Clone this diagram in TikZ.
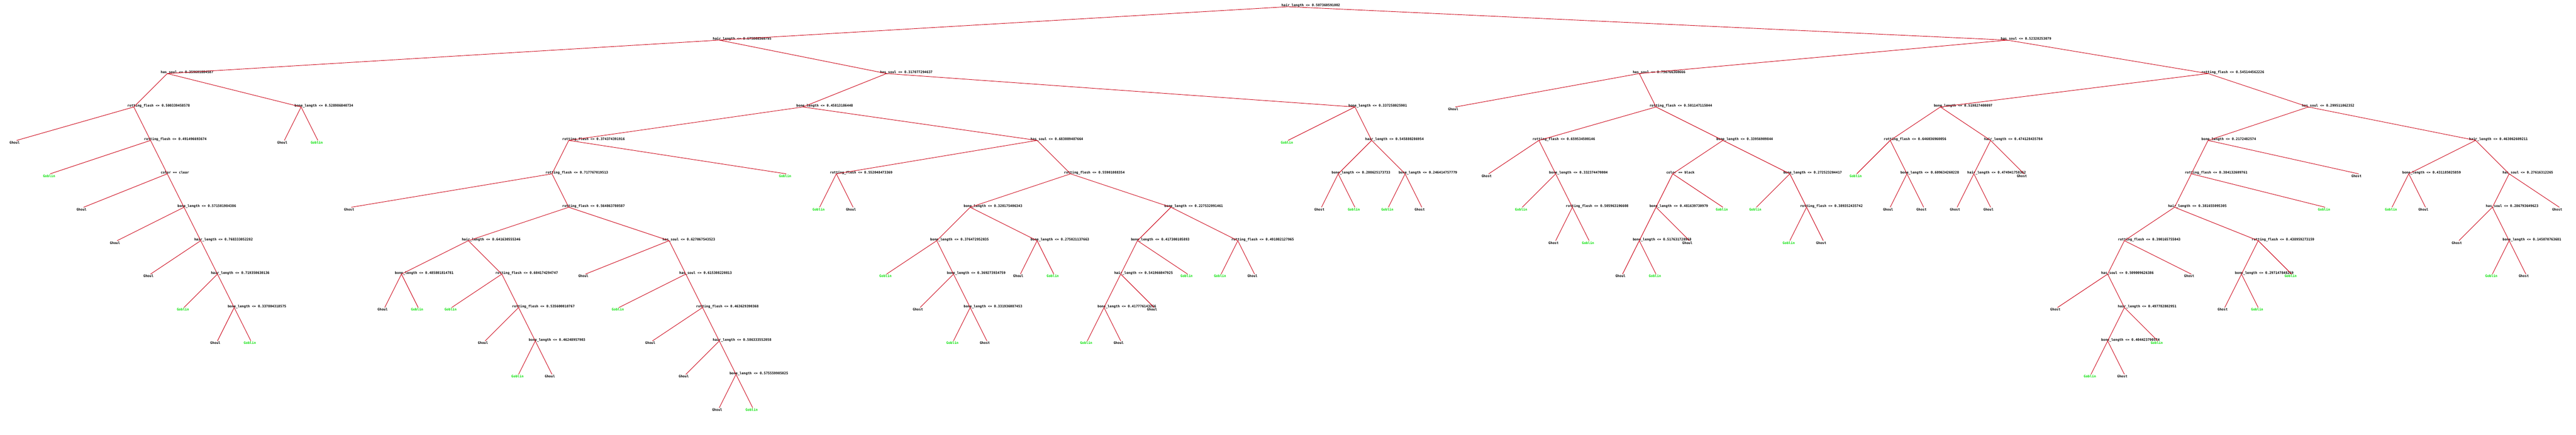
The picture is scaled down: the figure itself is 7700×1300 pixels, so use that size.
\documentclass[tikz,border=0pt]{standalone}
\usepackage{fontspec}
\setmonofont{DejaVu Sans Mono}
\definecolor{edgered}{RGB}{204,0,20}
\definecolor{goblingreen}{RGB}{0,225,0}
\begin{document}
\begin{tikzpicture}[x=0.01cm,y=-0.01cm,
    every node/.style={inner sep=0pt,font=\fontsize{2.85pt}{3pt}\selectfont\ttfamily\bfseries},
    test/.style={anchor=base west,xshift=-0.2cm},
    leaf/.style={anchor=base west,xshift=-0.22cm,yshift=-0.1cm},
    goblin/.style={leaf,text=goblingreen},
    edge/.style={draw=edgered,line width=0.4pt}]
      \useasboundingbox (0,0) rectangle (7700,1300);
      \fill[white] (0,0) rectangle (7700,1300);
      \path
        (3850,20) coordinate (n0) node[test] (t0) {hair\_length <= 0.507360591002}
        (2150,120) coordinate (n1) node[test] (t1) {hair\_length <= 0.675868360795}
        (500,220) coordinate (n2) node[test] (t2) {has\_soul <= 0.359601884587}
        (400,320) coordinate (n3) node[test] (t3) {rotting\_flesh <= 0.500339458578}
        (50,420) coordinate (n4) node[leaf] (t4) {Ghoul}
        (450,420) coordinate (n5) node[test] (t5) {rotting\_flesh <= 0.491496693674}
        (150,520) coordinate (n6) node[goblin] (t6) {Goblin}
        (500,520) coordinate (n7) node[test] (t7) {color == clear}
        (250,620) coordinate (n8) node[leaf] (t8) {Ghoul}
        (550,620) coordinate (n9) node[test] (t9) {bone\_length <= 0.571501984386}
        (350,720) coordinate (n10) node[leaf] (t10) {Ghoul}
        (600,720) coordinate (n11) node[test] (t11) {hair\_length <= 0.768333052282}
        (450,820) coordinate (n12) node[leaf] (t12) {Ghoul}
        (650,820) coordinate (n13) node[test] (t13) {hair\_length <= 0.719350630136}
        (550,920) coordinate (n14) node[goblin] (t14) {Goblin}
        (700,920) coordinate (n15) node[test] (t15) {bone\_length <= 0.337804318575}
        (650,1020) coordinate (n16) node[leaf] (t16) {Ghoul}
        (750,1020) coordinate (n17) node[goblin] (t17) {Goblin}
        (900,320) coordinate (n18) node[test] (t18) {bone\_length <= 0.528986840734}
        (850,420) coordinate (n19) node[leaf] (t19) {Ghoul}
        (950,420) coordinate (n20) node[goblin] (t20) {Goblin}
        (2650,220) coordinate (n21) node[test] (t21) {has\_soul <= 0.317077294637}
        (2400,320) coordinate (n22) node[test] (t22) {bone\_length <= 0.45813186448}
        (1700,420) coordinate (n23) node[test] (t23) {rotting\_flesh <= 0.374374391916}
        (1650,520) coordinate (n24) node[test] (t24) {rotting\_flesh <= 0.717767019513}
        (1050,620) coordinate (n25) node[leaf] (t25) {Ghost}
        (1700,620) coordinate (n26) node[test] (t26) {rotting\_flesh <= 0.564863780587}
        (1400,720) coordinate (n27) node[test] (t27) {hair\_length <= 0.641630555346}
        (1200,820) coordinate (n28) node[test] (t28) {bone\_length <= 0.485801814781}
        (1150,920) coordinate (n29) node[leaf] (t29) {Ghoul}
        (1250,920) coordinate (n30) node[goblin] (t30) {Goblin}
        (1500,820) coordinate (n31) node[test] (t31) {rotting\_flesh <= 0.604174294747}
        (1350,920) coordinate (n32) node[goblin] (t32) {Goblin}
        (1550,920) coordinate (n33) node[test] (t33) {rotting\_flesh <= 0.535600010767}
        (1450,1020) coordinate (n34) node[leaf] (t34) {Ghoul}
        (1600,1020) coordinate (n35) node[test] (t35) {bone\_length <= 0.46248957903}
        (1550,1120) coordinate (n36) node[goblin] (t36) {Goblin}
        (1650,1120) coordinate (n37) node[leaf] (t37) {Ghoul}
        (2000,720) coordinate (n38) node[test] (t38) {has\_soul <= 0.627067543523}
        (1750,820) coordinate (n39) node[leaf] (t39) {Ghoul}
        (2050,820) coordinate (n40) node[test] (t40) {has\_soul <= 0.615308220813}
        (1850,920) coordinate (n41) node[goblin] (t41) {Goblin}
        (2100,920) coordinate (n42) node[test] (t42) {rotting\_flesh <= 0.463629390368}
        (1950,1020) coordinate (n43) node[leaf] (t43) {Ghoul}
        (2150,1020) coordinate (n44) node[test] (t44) {hair\_length <= 0.586333552058}
        (2050,1120) coordinate (n45) node[leaf] (t45) {Ghoul}
        (2200,1120) coordinate (n46) node[test] (t46) {bone\_length <= 0.575559905025}
        (2150,1220) coordinate (n47) node[leaf] (t47) {Ghoul}
        (2250,1220) coordinate (n48) node[goblin] (t48) {Goblin}
        (2350,520) coordinate (n49) node[goblin] (t49) {Goblin}
        (3100,420) coordinate (n50) node[test] (t50) {has\_soul <= 0.683089487664}
        (2500,520) coordinate (n51) node[test] (t51) {rotting\_flesh <= 0.552048473369}
        (2450,620) coordinate (n52) node[goblin] (t52) {Goblin}
        (2550,620) coordinate (n53) node[leaf] (t53) {Ghoul}
        (3200,520) coordinate (n54) node[test] (t54) {rotting\_flesh <= 0.55901088354}
        (2900,620) coordinate (n55) node[test] (t55) {bone\_length <= 0.320175406343}
        (2800,720) coordinate (n56) node[test] (t56) {bone\_length <= 0.376472952035}
        (2650,820) coordinate (n57) node[goblin] (t57) {Goblin}
        (2850,820) coordinate (n58) node[test] (t58) {bone\_length <= 0.369273934759}
        (2750,920) coordinate (n59) node[leaf] (t59) {Ghost}
        (2900,920) coordinate (n60) node[test] (t60) {bone\_length <= 0.331936087453}
        (2850,1020) coordinate (n61) node[goblin] (t61) {Goblin}
        (2950,1020) coordinate (n62) node[leaf] (t62) {Ghost}
        (3100,720) coordinate (n63) node[test] (t63) {bone\_length <= 0.275021137663}
        (3050,820) coordinate (n64) node[leaf] (t64) {Ghoul}
        (3150,820) coordinate (n65) node[goblin] (t65) {Goblin}
        (3500,620) coordinate (n66) node[test] (t66) {bone\_length <= 0.227532091461}
        (3400,720) coordinate (n67) node[test] (t67) {bone\_length <= 0.417300105893}
        (3350,820) coordinate (n68) node[test] (t68) {hair\_length <= 0.541966047925}
        (3300,920) coordinate (n69) node[test] (t69) {bone\_length <= 0.417776143266}
        (3250,1020) coordinate (n70) node[goblin] (t70) {Goblin}
        (3350,1020) coordinate (n71) node[leaf] (t71) {Ghoul}
        (3450,920) coordinate (n72) node[leaf] (t72) {Ghoul}
        (3550,820) coordinate (n73) node[goblin] (t73) {Goblin}
        (3700,720) coordinate (n74) node[test] (t74) {rotting\_flesh <= 0.491082127965}
        (3650,820) coordinate (n75) node[goblin] (t75) {Goblin}
        (3750,820) coordinate (n76) node[leaf] (t76) {Ghoul}
        (4050,320) coordinate (n77) node[test] (t77) {bone\_length <= 0.337258025901}
        (3850,420) coordinate (n78) node[goblin] (t78) {Goblin}
        (4100,420) coordinate (n79) node[test] (t79) {hair\_length <= 0.545880286954}
        (4000,520) coordinate (n80) node[test] (t80) {bone\_length <= 0.208625173733}
        (3950,620) coordinate (n81) node[leaf] (t81) {Ghost}
        (4050,620) coordinate (n82) node[goblin] (t82) {Goblin}
        (4200,520) coordinate (n83) node[test] (t83) {bone\_length <= 0.246414757779}
        (4150,620) coordinate (n84) node[goblin] (t84) {Goblin}
        (4250,620) coordinate (n85) node[leaf] (t85) {Ghost}
        (6000,120) coordinate (n86) node[test] (t86) {has\_soul <= 0.52328253079}
        (4900,220) coordinate (n87) node[test] (t87) {has\_soul <= 0.756766360666}
        (4350,320) coordinate (n88) node[leaf] (t88) {Ghoul}
        (4950,320) coordinate (n89) node[test] (t89) {rotting\_flesh <= 0.501147115044}
        (4600,420) coordinate (n90) node[test] (t90) {rotting\_flesh <= 0.659534500146}
        (4450,520) coordinate (n91) node[leaf] (t91) {Ghost}
        (4650,520) coordinate (n92) node[test] (t92) {bone\_length <= 0.332374470004}
        (4550,620) coordinate (n93) node[goblin] (t93) {Goblin}
        (4700,620) coordinate (n94) node[test] (t94) {rotting\_flesh <= 0.505963196608}
        (4650,720) coordinate (n95) node[leaf] (t95) {Ghost}
        (4750,720) coordinate (n96) node[goblin] (t96) {Goblin}
        (5150,420) coordinate (n97) node[test] (t97) {bone\_length <= 0.33956909844}
        (5000,520) coordinate (n98) node[test] (t98) {color == black}
        (4950,620) coordinate (n99) node[test] (t99) {bone\_length <= 0.481639730979}
        (4900,720) coordinate (n100) node[test] (t100) {bone\_length <= 0.517631728968}
        (4850,820) coordinate (n101) node[leaf] (t101) {Ghoul}
        (4950,820) coordinate (n102) node[goblin] (t102) {Goblin}
        (5050,720) coordinate (n103) node[leaf] (t103) {Ghoul}
        (5150,620) coordinate (n104) node[goblin] (t104) {Goblin}
        (5350,520) coordinate (n105) node[test] (t105) {bone\_length <= 0.272523204417}
        (5250,620) coordinate (n106) node[goblin] (t106) {Goblin}
        (5400,620) coordinate (n107) node[test] (t107) {rotting\_flesh <= 0.389352435742}
        (5350,720) coordinate (n108) node[goblin] (t108) {Goblin}
        (5450,720) coordinate (n109) node[leaf] (t109) {Ghost}
        (6600,220) coordinate (n110) node[test] (t110) {rotting\_flesh <= 0.545144562226}
        (5800,320) coordinate (n111) node[test] (t111) {bone\_length <= 0.519827400097}
        (5650,420) coordinate (n112) node[test] (t112) {rotting\_flesh <= 0.646036960056}
        (5550,520) coordinate (n113) node[goblin] (t113) {Goblin}
        (5700,520) coordinate (n114) node[test] (t114) {bone\_length <= 0.609634260228}
        (5650,620) coordinate (n115) node[leaf] (t115) {Ghoul}
        (5750,620) coordinate (n116) node[leaf] (t116) {Ghost}
        (5950,420) coordinate (n117) node[test] (t117) {hair\_length <= 0.474128435784}
        (5900,520) coordinate (n118) node[test] (t118) {hair\_length <= 0.474941758362}
        (5850,620) coordinate (n119) node[leaf] (t119) {Ghost}
        (5950,620) coordinate (n120) node[leaf] (t120) {Ghoul}
        (6050,520) coordinate (n121) node[leaf] (t121) {Ghost}
        (6900,320) coordinate (n122) node[test] (t122) {has\_soul <= 0.299511062352}
        (6600,420) coordinate (n123) node[test] (t123) {bone\_length <= 0.2172482574}
        (6550,520) coordinate (n124) node[test] (t124) {rotting\_flesh <= 0.384132609761}
        (6500,620) coordinate (n125) node[test] (t125) {hair\_length <= 0.381655095305}
        (6350,720) coordinate (n126) node[test] (t126) {rotting\_flesh <= 0.390165755043}
        (6300,820) coordinate (n127) node[test] (t127) {has\_soul <= 0.509009626386}
        (6150,920) coordinate (n128) node[leaf] (t128) {Ghost}
        (6350,920) coordinate (n129) node[test] (t129) {hair\_length <= 0.497782802951}
        (6300,1020) coordinate (n130) node[test] (t130) {bone\_length <= 0.404423790574}
        (6250,1120) coordinate (n131) node[goblin] (t131) {Goblin}
        (6350,1120) coordinate (n132) node[leaf] (t132) {Ghost}
        (6450,1020) coordinate (n133) node[goblin] (t133) {Goblin}
        (6550,820) coordinate (n134) node[leaf] (t134) {Ghost}
        (6750,720) coordinate (n135) node[test] (t135) {rotting\_flesh <= 0.438959273159}
        (6700,820) coordinate (n136) node[test] (t136) {bone\_length <= 0.297147848269}
        (6650,920) coordinate (n137) node[leaf] (t137) {Ghost}
        (6750,920) coordinate (n138) node[goblin] (t138) {Goblin}
        (6850,820) coordinate (n139) node[goblin] (t139) {Goblin}
        (6950,620) coordinate (n140) node[goblin] (t140) {Goblin}
        (7050,520) coordinate (n141) node[leaf] (t141) {Ghost}
        (7400,420) coordinate (n142) node[test] (t142) {hair\_length <= 0.463062609211}
        (7200,520) coordinate (n143) node[test] (t143) {bone\_length <= 0.431185025859}
        (7150,620) coordinate (n144) node[goblin] (t144) {Goblin}
        (7250,620) coordinate (n145) node[leaf] (t145) {Ghoul}
        (7500,520) coordinate (n146) node[test] (t146) {has\_soul <= 0.27616312265}
        (7450,620) coordinate (n147) node[test] (t147) {has\_soul <= 0.286793649623}
        (7350,720) coordinate (n148) node[leaf] (t148) {Ghost}
        (7500,720) coordinate (n149) node[test] (t149) {bone\_length <= 0.145070763681}
        (7450,820) coordinate (n150) node[goblin] (t150) {Goblin}
        (7550,820) coordinate (n151) node[leaf] (t151) {Ghost}
        (7650,620) coordinate (n152) node[leaf] (t152) {Ghost};
      \begin{scope}[edge]
        \draw (n0) to (n1);
        \draw (n0) to (n86);
        \draw (n1) to (n2);
        \draw (n1) to (n21);
        \draw (n2) to (n3);
        \draw (n2) to (n18);
        \draw (n3) to (n4);
        \draw (n3) to (n5);
        \draw (n5) to (n6);
        \draw (n5) to (n7);
        \draw (n7) to (n8);
        \draw (n7) to (n9);
        \draw (n9) to (n10);
        \draw (n9) to (n11);
        \draw (n11) to (n12);
        \draw (n11) to (n13);
        \draw (n13) to (n14);
        \draw (n13) to (n15);
        \draw (n15) to (n16);
        \draw (n15) to (n17);
        \draw (n18) to (n19);
        \draw (n18) to (n20);
        \draw (n21) to (n22);
        \draw (n21) to (n77);
        \draw (n22) to (n23);
        \draw (n22) to (n50);
        \draw (n23) to (n24);
        \draw (n23) to (n49);
        \draw (n24) to (n25);
        \draw (n24) to (n26);
        \draw (n26) to (n27);
        \draw (n26) to (n38);
        \draw (n27) to (n28);
        \draw (n27) to (n31);
        \draw (n28) to (n29);
        \draw (n28) to (n30);
        \draw (n31) to (n32);
        \draw (n31) to (n33);
        \draw (n33) to (n34);
        \draw (n33) to (n35);
        \draw (n35) to (n36);
        \draw (n35) to (n37);
        \draw (n38) to (n39);
        \draw (n38) to (n40);
        \draw (n40) to (n41);
        \draw (n40) to (n42);
        \draw (n42) to (n43);
        \draw (n42) to (n44);
        \draw (n44) to (n45);
        \draw (n44) to (n46);
        \draw (n46) to (n47);
        \draw (n46) to (n48);
        \draw (n50) to (n51);
        \draw (n50) to (n54);
        \draw (n51) to (n52);
        \draw (n51) to (n53);
        \draw (n54) to (n55);
        \draw (n54) to (n66);
        \draw (n55) to (n56);
        \draw (n55) to (n63);
        \draw (n56) to (n57);
        \draw (n56) to (n58);
        \draw (n58) to (n59);
        \draw (n58) to (n60);
        \draw (n60) to (n61);
        \draw (n60) to (n62);
        \draw (n63) to (n64);
        \draw (n63) to (n65);
        \draw (n66) to (n67);
        \draw (n66) to (n74);
        \draw (n67) to (n68);
        \draw (n67) to (n73);
        \draw (n68) to (n69);
        \draw (n68) to (n72);
        \draw (n69) to (n70);
        \draw (n69) to (n71);
        \draw (n74) to (n75);
        \draw (n74) to (n76);
        \draw (n77) to (n78);
        \draw (n77) to (n79);
        \draw (n79) to (n80);
        \draw (n79) to (n83);
        \draw (n80) to (n81);
        \draw (n80) to (n82);
        \draw (n83) to (n84);
        \draw (n83) to (n85);
        \draw (n86) to (n87);
        \draw (n86) to (n110);
        \draw (n87) to (n88);
        \draw (n87) to (n89);
        \draw (n89) to (n90);
        \draw (n89) to (n97);
        \draw (n90) to (n91);
        \draw (n90) to (n92);
        \draw (n92) to (n93);
        \draw (n92) to (n94);
        \draw (n94) to (n95);
        \draw (n94) to (n96);
        \draw (n97) to (n98);
        \draw (n97) to (n105);
        \draw (n98) to (n99);
        \draw (n98) to (n104);
        \draw (n99) to (n100);
        \draw (n99) to (n103);
        \draw (n100) to (n101);
        \draw (n100) to (n102);
        \draw (n105) to (n106);
        \draw (n105) to (n107);
        \draw (n107) to (n108);
        \draw (n107) to (n109);
        \draw (n110) to (n111);
        \draw (n110) to (n122);
        \draw (n111) to (n112);
        \draw (n111) to (n117);
        \draw (n112) to (n113);
        \draw (n112) to (n114);
        \draw (n114) to (n115);
        \draw (n114) to (n116);
        \draw (n117) to (n118);
        \draw (n117) to (n121);
        \draw (n118) to (n119);
        \draw (n118) to (n120);
        \draw (n122) to (n123);
        \draw (n122) to (n142);
        \draw (n123) to (n124);
        \draw (n123) to (n141);
        \draw (n124) to (n125);
        \draw (n124) to (n140);
        \draw (n125) to (n126);
        \draw (n125) to (n135);
        \draw (n126) to (n127);
        \draw (n126) to (n134);
        \draw (n127) to (n128);
        \draw (n127) to (n129);
        \draw (n129) to (n130);
        \draw (n129) to (n133);
        \draw (n130) to (n131);
        \draw (n130) to (n132);
        \draw (n135) to (n136);
        \draw (n135) to (n139);
        \draw (n136) to (n137);
        \draw (n136) to (n138);
        \draw (n142) to (n143);
        \draw (n142) to (n146);
        \draw (n143) to (n144);
        \draw (n143) to (n145);
        \draw (n146) to (n147);
        \draw (n146) to (n152);
        \draw (n147) to (n148);
        \draw (n147) to (n149);
        \draw (n149) to (n150);
        \draw (n149) to (n151);
      \end{scope}
    \end{tikzpicture}
\end{document}
